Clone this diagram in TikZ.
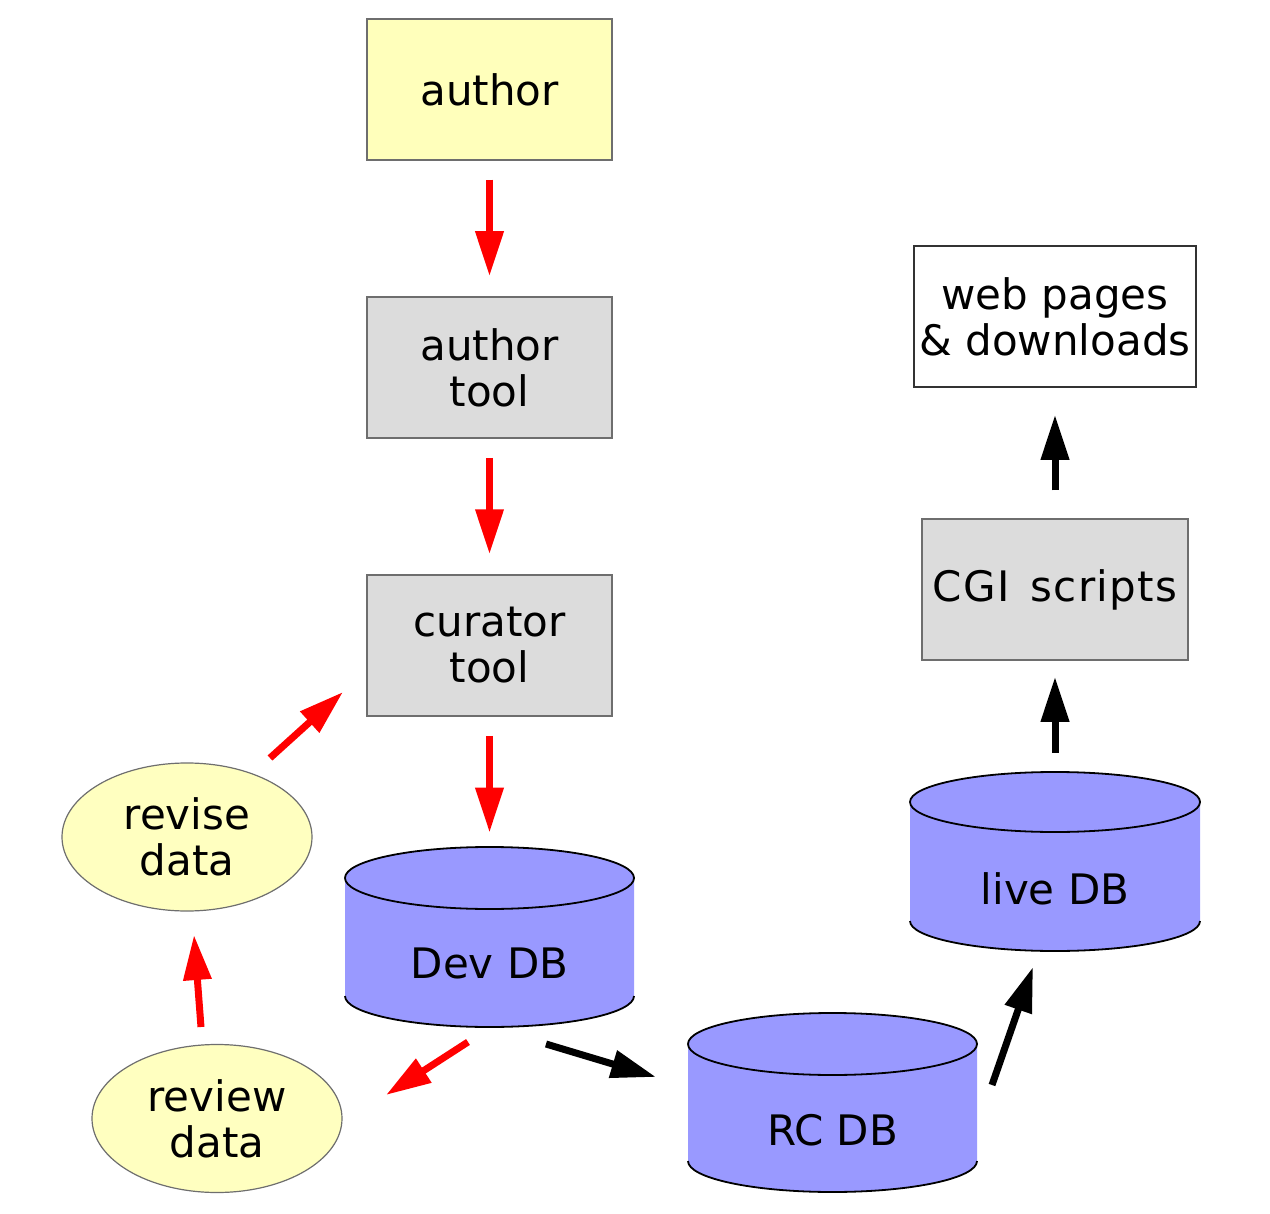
\documentclass[tikz,border=0pt]{standalone}
\usepackage{fontspec}
\setmainfont{DejaVu Sans}
\usetikzlibrary{arrows.meta,shapes.geometric}
\definecolor{boxgray}{HTML}{6E6E6E}
\definecolor{tanfill}{HTML}{FFFFBB}
\definecolor{toolfill}{HTML}{DCDCDC}
\definecolor{dbblue}{HTML}{9999FF}
\definecolor{ellfill}{HTML}{FFFFC0}
\definecolor{arrred}{HTML}{FF0000}
\newcommand\cylshape[5]{%
  % #1 cx, #2 rx (px), #3 top cy, #4 bottom cy, #5 ry (px)
  \path[fill=dbblue] ({#1-#2},#3) -- ({#1-#2},#4)
     arc[start angle=180,end angle=360,x radius=#2*0.5pt,y radius=#5*0.5pt]
     -- ({#1+#2},#3)
     arc[start angle=0,end angle=180,x radius=#2*0.5pt,y radius=#5*0.5pt] -- cycle;
  \draw[line width=0.9pt] (#1,#3) ellipse[x radius=#2*0.5pt,y radius=#5*0.5pt];
  \draw[line width=0.9pt] ({#1-#2},#4)
     arc[start angle=180,end angle=360,x radius=#2*0.5pt,y radius=#5*0.5pt];
}
\begin{document}
\begin{tikzpicture}[x=0.5pt,y=-0.5pt,
  every node/.style={font=\fontsize{21pt}{23pt}\selectfont, inner sep=0pt, align=center},
  procbox/.style={draw=boxgray, line width=0.75pt, minimum width=122.5pt, minimum height=70.5pt},
  ellnode/.style={ellipse, draw=boxgray, line width=0.6pt, fill=ellfill, minimum width=125pt, minimum height=74pt},
  dbnode/.style={minimum width=144.5pt, minimum height=90pt},
  redarr/.style={draw=arrred, line width=3.5pt, -{Triangle[length=22.5pt,width=13.5pt]}, arrred},
  blkarr/.style={draw=black, line width=3.5pt, -{Triangle[length=22.5pt,width=13.5pt]}}
]
\useasboundingbox (0,0) rectangle (1270,1214);

% boxes
\node[procbox, fill=tanfill] (author) at (489.5,89.5) {author};
\node[procbox, fill=toolfill] (authortool) at (489.5,367.5) {author\\tool};
\node[procbox, fill=toolfill] (curator) at (489.5,645.5) {curator\\tool};
\node[procbox, fill=toolfill, minimum width=133pt] (cgi) at (1055,589.5) {\addfontfeature{LetterSpace=3}CGI\hspace{0.5em}scripts};
\node[procbox, fill=white, draw=black!80, minimum width=141pt] (web) at (1055,316.5) {web pages\\\& downloads};

% ellipses
\node[ellnode] (revise) at (187,837) {revise\\data};
\node[ellnode] (review) at (217,1118.5) {review\\data};

% cylinders
\cylshape{489.5}{144.5}{878}{996}{31}
\node[dbnode] (devdb) at (489.5,937) {};
\node (devdblabel) at (489.5,963) {Dev DB};

\cylshape{832.5}{144.5}{1044}{1161}{31}
\node[dbnode] (rcdb) at (832.5,1102.5) {};
\node (rcdblabel) at (832.5,1130) {RC DB};

\cylshape{1055}{145}{802}{921}{30}
\node[dbnode] (livedb) at (1055,862) {};
\node (livedblabel) at (1055,889) {live DB};

% vertical red arrows
\draw[redarr, shorten <=9.5pt, shorten >=10pt] (author) -- (authortool);
\draw[redarr, shorten <=9.5pt, shorten >=10pt] (authortool) -- (curator);
\draw[redarr, shorten <=9.5pt, shorten >=7pt] (curator) -- (devdb);

% diagonal arrows
\coordinate (revA) at (270,758);
\coordinate (revB) at (343,692);
\draw[redarr] (revA) -- (revB);
\coordinate (rvA) at (201,1027);
\coordinate (rvB) at (194,935);
\draw[redarr] (rvA) -- (rvB);
\coordinate (dvA) at (468,1042);
\coordinate (dvB) at (386,1095);
\draw[redarr] (dvA) -- (dvB);

\coordinate (rcA) at (546,1044);
\coordinate (rcB) at (656,1077);
\draw[blkarr] (rcA) -- (rcB);
\coordinate (lvA) at (992,1085);
\coordinate (lvB) at (1033,967);
\draw[blkarr] (lvA) -- (lvB);

% vertical black arrows
\draw[blkarr, shorten <=9.5pt, shorten >=8pt] (livedb) -- (cgi);
\draw[blkarr, shorten <=14pt, shorten >=13.5pt] (cgi) -- (web);
\end{tikzpicture}
\end{document}
